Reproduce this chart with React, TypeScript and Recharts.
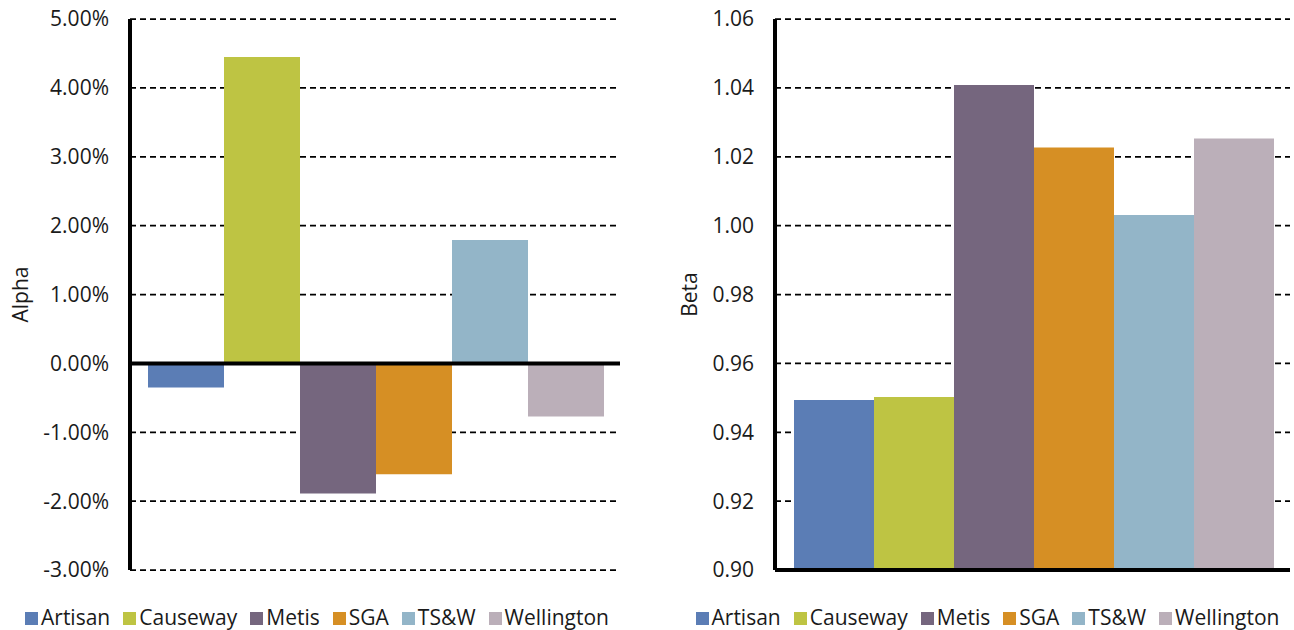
import {
  Bar,
  BarChart,
  CartesianGrid,
  Legend,
  ReferenceLine,
  XAxis,
  YAxis,
} from "recharts";

const managers = ["Artisan", "Causeway", "Metis", "SGA", "TS&W", "Wellington"];
const colors = ["#5b7db5", "#bec443", "#75667e", "#d68f24", "#93b5c8", "#bbafb9"];

// alpha in percent, beta as ratio
const alpha = [-0.35, 4.45, -1.89, -1.61, 1.79, -0.77];
const beta = [0.9494, 0.9502, 1.0408, 1.0227, 1.0031, 1.0253];

const alphaTicks = [-3, -2, -1, 0, 1, 2, 3, 4, 5];
const betaTicks = [0.9, 0.92, 0.94, 0.96, 0.98, 1.0, 1.02, 1.04, 1.06];

const font = "'Open Sans', sans-serif";
const ink = "#1a1a1a";
const tickStyle = { fontFamily: font, fontSize: 21, fill: ink };

function toRow(values: number[]) {
  const row: Record<string, number | string> = { name: "" };
  managers.forEach((m, i) => (row[m] = values[i]));
  return [row];
}

function LegendRow({ payload }: any) {
  return (
    <div
      style={{
        display: "flex",
        justifyContent: "center",
        alignItems: "center",
        height: 30,
        fontFamily: font,
        fontSize: 21,
        color: ink,
        whiteSpace: "nowrap",
      }}
    >
      {(payload ?? []).map((p: any, i: number) => (
        <span
          key={p.value}
          style={{ display: "flex", alignItems: "center", marginLeft: i ? 13 : 0 }}
        >
          <span
            style={{
              width: 13,
              height: 13,
              background: p.color,
              marginRight: 3,
              marginTop: 3,
            }}
          />
          <span>{p.value}</span>
        </span>
      ))}
    </div>
  );
}

function AlphaChart() {
  return (
    <BarChart
      width={647}
      height={630}
      data={toRow(alpha)}
      margin={{ top: 19, right: 27, bottom: 0, left: 0 }}
      barCategoryGap={18}
      barGap={0}
    >
      <CartesianGrid vertical={false} stroke="#000" strokeDasharray="6 4" strokeWidth={1.75} />
      <XAxis dataKey="name" hide />
      <YAxis
        width={130}
        domain={[-3, 5]}
        ticks={alphaTicks}
        interval={0}
        tickFormatter={(v: number) => `${v.toFixed(2)}%`}
        axisLine={{ stroke: "#000", strokeWidth: 4 }}
        tickLine={false}
        tickMargin={15}
        tick={tickStyle}
        label={{
          value: "Alpha",
          angle: -90,
          position: "insideLeft",
          offset: 21,
          style: { textAnchor: "middle", ...tickStyle },
        }}
      />
      {managers.map((m, i) => (
        <Bar key={m} dataKey={m} fill={colors[i]} isAnimationActive={false} />
      ))}
      <ReferenceLine y={0} stroke="#000" strokeWidth={4} />
      <Legend
        verticalAlign="bottom"
        height={60}
        content={LegendRow}
        wrapperStyle={{ left: 0, width: 634, top: 602, bottom: "auto" }}
      />
    </BarChart>
  );
}

function BetaChart() {
  return (
    <BarChart
      width={647}
      height={630}
      data={toRow(beta)}
      margin={{ top: 19, right: 4, bottom: 0, left: 0 }}
      barCategoryGap={19}
      barGap={0}
    >
      <CartesianGrid vertical={false} stroke="#000" strokeDasharray="6 4" strokeWidth={1.75} />
      <XAxis dataKey="name" hide />
      <YAxis
        width={128}
        domain={[0.9, 1.06]}
        ticks={betaTicks}
        interval={0}
        tickFormatter={(v: number) => v.toFixed(2)}
        axisLine={{ stroke: "#000", strokeWidth: 4 }}
        tickLine={false}
        tickMargin={15}
        tick={tickStyle}
        label={{
          value: "Beta",
          angle: -90,
          position: "insideLeft",
          offset: 43,
          style: { textAnchor: "middle", ...tickStyle },
        }}
      />
      {managers.map((m, i) => (
        <Bar key={m} dataKey={m} fill={colors[i]} isAnimationActive={false} />
      ))}
      <ReferenceLine y={0.9} stroke="#000" strokeWidth={4} />
      <Legend
        verticalAlign="bottom"
        height={60}
        content={LegendRow}
        wrapperStyle={{ left: 34, width: 613, top: 602, bottom: "auto" }}
      />
    </BarChart>
  );
}

export default function App() {
  return (
    <div
      style={{
        position: "absolute",
        left: 0,
        top: 0,
        width: 1294,
        height: 630,
        background: "#fff",
      }}
    >
      <div style={{ position: "absolute", left: 0, top: 0 }}>
        <AlphaChart />
      </div>
      <div style={{ position: "absolute", left: 647, top: 0 }}>
        <BetaChart />
      </div>
    </div>
  );
}
